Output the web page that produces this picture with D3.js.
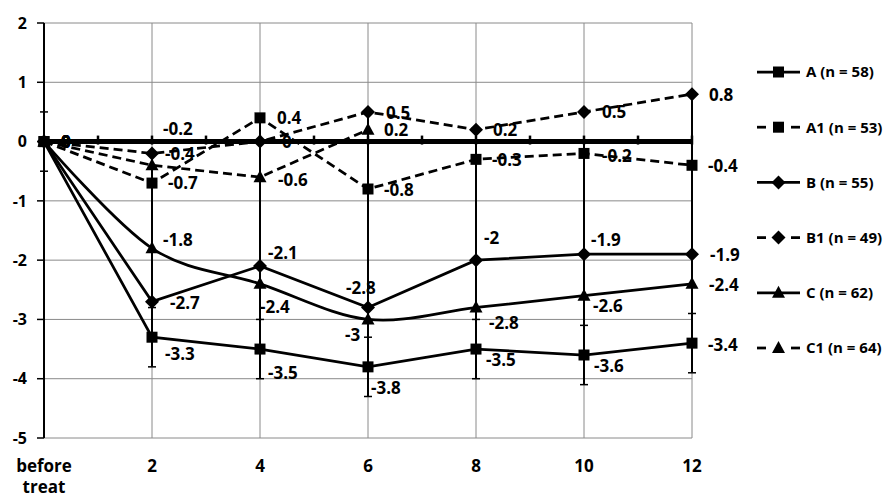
<!DOCTYPE html>
<html lang="en">
<head>
<meta charset="UTF-8">
<title>Change from baseline</title>
<script src="https://d3js.org/d3.v7.min.js"></script>
<style>
  body { margin: 0; background: #fff; }
  text { font-family: "Open Sans", sans-serif; font-weight: bold; fill: #000; }
</style>
</head>
<body>
<svg width="886" height="496"></svg>
<script>
var categories = ["before treat", "2", "4", "6", "8", "10", "12"];
var yTicks = [2, 1, 0, -1, -2, -3, -4, -5];

var valuesA  = [0, -3.3, -3.5, -3.8, -3.5, -3.6, -3.4];
var valuesA1 = [0, -0.7, 0.4, -0.8, -0.3, -0.2, -0.4];
var valuesB  = [0, -2.7, -2.1, -2.8, -2, -1.9, -1.9];
var valuesB1 = [0, -0.2, 0, 0.5, 0.2, 0.5, 0.8];
var valuesC  = [0, -1.8, -2.4, -3, -2.8, -2.6, -2.4];
var valuesC1 = [0, -0.4, -0.6, 0.2, null, null, null];

// error bars (group A ± 0.5), and top of the joined whisker at each time
var errA = [0.5, 0.5, 0.5, 0.5, 0.5, 0.5, 0.5];
var whiskerTop = [0.5, -0.2, 0.4, 0.5, 0.2, 0, 0.8];

var series = [
  { name: "A (n = 58)",  values: valuesA,  marker: "square",   dashed: false, smooth: false },
  { name: "A1 (n = 53)", values: valuesA1, marker: "square",   dashed: true,  smooth: false },
  { name: "B (n = 55)",  values: valuesB,  marker: "diamond",  dashed: false, smooth: false },
  { name: "B1 (n = 49)", values: valuesB1, marker: "diamond",  dashed: true,  smooth: false },
  { name: "C (n = 62)",  values: valuesC,  marker: "triangle", dashed: false, smooth: true },
  { name: "C1 (n = 64)", values: valuesC1, marker: "triangle", dashed: true,  smooth: false }
];

// label placement nudges [dx, dy] from each point (layout only)
var labelNudge = [
  [[17, 0], [13, 17], [8, 24], [3, 21], [10, 11], [10, 11], [16, 2]],
  [[17, 0], [16, 0], [17, 0], [16, 1], [16, 1], [18, 2], [16, 1]],
  [[17, 0], [18, 1], [8, -13], [-22, -20], [8, -22], [7, -14], [18, 1]],
  [[17, 0], [11, -25], [22, 0], [18, 1], [17, 0], [18, 0], [17, 1]],
  [[17, 0], [11, -8], [0, 23], [-23, 15], [13, 15], [9, 10], [17, 1]],
  [[17, 0], [13, -11], [18, 3], [16, 0], [0, 0], [0, 0], [0, 0]]
];

var svg = d3.select("svg");
var plotLeft = 44, plotRight = 692, plotTop = 23, plotBottom = 438;

var x = d3.scalePoint().domain(d3.range(categories.length)).range([plotLeft, plotRight]).padding(0);
var y = d3.scaleLinear().domain([-5, 2]).range([plotBottom, plotTop]);

function markerPath(type) {
  if (type === "square") return "M-5.5,-5.5h11v11h-11z";
  if (type === "diamond") return "M0,-7L7,0L0,7L-7,0z";
  return "M0,-7L6.5,5L-6.5,5z";
}

// grid
var grid = svg.append("g");
grid.selectAll(".hg").data(yTicks).enter().append("line")
  .attr("x1", plotLeft).attr("x2", plotRight)
  .attr("y1", function(d) { return y(d); }).attr("y2", function(d) { return y(d); })
  .attr("stroke", "#8a8a8a").attr("stroke-width", 1);
grid.selectAll(".vg").data(d3.range(1, categories.length)).enter().append("line")
  .attr("x1", function(d) { return x(d); }).attr("x2", function(d) { return x(d); })
  .attr("y1", plotTop).attr("y2", plotBottom)
  .attr("stroke", "#8a8a8a").attr("stroke-width", 1);

// y axis
svg.append("line").attr("x1", plotLeft).attr("x2", plotLeft).attr("y1", plotTop).attr("y2", plotBottom)
  .attr("stroke", "#000").attr("stroke-width", 2);
svg.selectAll(".yt").data(yTicks).enter().append("line")
  .attr("x1", plotLeft - 7).attr("x2", plotLeft)
  .attr("y1", function(d) { return y(d); }).attr("y2", function(d) { return y(d); })
  .attr("stroke", "#000").attr("stroke-width", 1.5);
svg.selectAll(".yl").data(yTicks).enter().append("text")
  .attr("x", 27).attr("y", function(d) { return y(d); })
  .attr("dy", "0.36em").attr("text-anchor", "end")
  .style("font-size", "16px")
  .text(function(d) { return d; });

// x labels
svg.selectAll(".xl").data(categories).enter().append("text")
  .attr("text-anchor", "middle")
  .attr("x", function(d, i) { return x(i); })
  .attr("y", 472)
  .style("font-size", "17px")
  .each(function(d) {
    var words = d.split(" ");
    var t = d3.select(this);
    words.forEach(function(w, k) {
      t.append("tspan").attr("x", t.attr("x")).attr("dy", k === 0 ? 0 : 21).text(w);
    });
  });

// error bars
var err = svg.append("g").attr("stroke", "#000").attr("stroke-width", 2);
categories.forEach(function(c, i) {
  var lo = valuesA[i] - errA[i];
  err.append("line").attr("x1", x(i)).attr("x2", x(i))
    .attr("y1", y(Math.max(whiskerTop[i], valuesA[i] + errA[i]))).attr("y2", y(lo));
  [valuesA[i] + errA[i], lo].forEach(function(v) {
    err.append("line").attr("x1", x(i) - 4).attr("x2", x(i) + 4)
      .attr("y1", y(v)).attr("y2", y(v)).attr("stroke-width", 1.5);
  });
});

// zero axis (thick) with ticks every half step
svg.append("line").attr("x1", plotLeft).attr("x2", plotRight).attr("y1", y(0)).attr("y2", y(0))
  .attr("stroke", "#000").attr("stroke-width", 5);
var halfTicks = d3.range(0, categories.length * 2 - 1).map(function(k) {
  return k % 2 === 0 ? x(k / 2) : (x((k - 1) / 2) + x((k + 1) / 2)) / 2;
});
svg.selectAll(".xt").data(halfTicks.slice(1)).enter().append("line")
  .attr("x1", function(d) { return d; }).attr("x2", function(d) { return d; })
  .attr("y1", y(0) - 6).attr("y2", y(0) + 3)
  .attr("stroke", "#000").attr("stroke-width", 2.5);

// series
series.forEach(function(s, si) {
  var pts = s.values.map(function(v, i) { return { i: i, v: v }; });
  var line = d3.line()
    .defined(function(d) { return d.v !== null; })
    .x(function(d) { return x(d.i); })
    .y(function(d) { return y(d.v); })
    .curve(s.smooth ? d3.curveCardinal.tension(0) : d3.curveLinear);
  svg.append("path").datum(pts)
    .attr("d", line)
    .attr("fill", "none").attr("stroke", "#000").attr("stroke-width", 2.75)
    .attr("stroke-dasharray", s.dashed ? "9,5" : null);
  var valid = pts.filter(function(d) { return d.v !== null; });
  svg.selectAll(".m" + si).data(valid).enter().append("path")
    .attr("d", markerPath(s.marker))
    .attr("transform", function(d) { return "translate(" + x(d.i) + "," + y(d.v) + ")"; })
    .attr("fill", "#000");
  svg.selectAll(".l" + si).data(valid).enter().append("text")
    .attr("x", function(d) { return x(d.i) + labelNudge[si][d.i][0]; })
    .attr("y", function(d) { return y(d.v) + labelNudge[si][d.i][1]; })
    .attr("dy", "0.36em")
    .style("font-size", "17px")
    .text(function(d) { return d.v; });
});

// legend
var lg = svg.append("g");
series.forEach(function(s, si) {
  var ly = 72 + si * 55.2;
  if (s.dashed) {
    lg.append("line").attr("x1", 757).attr("x2", 766).attr("y1", ly).attr("y2", ly)
      .attr("stroke", "#000").attr("stroke-width", 2.75);
    lg.append("line").attr("x1", 791).attr("x2", 800).attr("y1", ly).attr("y2", ly)
      .attr("stroke", "#000").attr("stroke-width", 2.75);
  } else {
    lg.append("line").attr("x1", 757).attr("x2", 800).attr("y1", ly).attr("y2", ly)
      .attr("stroke", "#000").attr("stroke-width", 2.75);
  }
  lg.append("path").attr("d", markerPath(s.marker))
    .attr("transform", "translate(778.5," + ly + ")").attr("fill", "#000");
  lg.append("text").attr("x", 806).attr("y", ly).attr("dy", "0.36em")
    .style("font-size", "15px").text(s.name);
});
</script>
</body>
</html>
